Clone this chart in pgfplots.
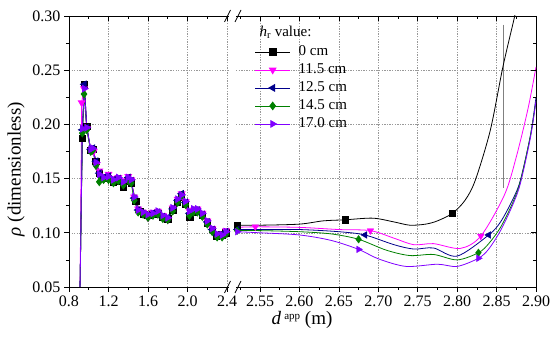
\documentclass[border=0pt]{standalone}
\usepackage{fontspec}
\setmainfont{Liberation Serif}
\usepackage{pgfplots}
\pgfplotsset{compat=1.18}
\definecolor{cmag}{RGB}{255,0,255}
\definecolor{cnavy}{RGB}{0,0,139}
\definecolor{cgreen}{RGB}{0,128,0}
\definecolor{cviolet}{RGB}{128,0,255}
\pgfplotsset{
  base/.style={scale only axis, anchor=south west, height=271pt,
    ymin=0.05, ymax=0.30,
    ytick={0.05,0.10,0.15,0.20,0.25,0.30},
    minor ytick={0.075,0.125,0.175,0.225,0.275},
    major tick length=5pt, minor tick length=3pt,
    tick style={black, line width=0.6pt},
    axis line style={line width=0.9pt},
    tick label style={font=\fontsize{16}{18}\selectfont},
    /pgf/number format/assume math mode=true,
    y tick label style={/pgf/number format/.cd,fixed,fixed zerofill,precision=2},
    major grid style={gray!80, line width=0.5pt, dash pattern=on 1.3pt off 1.3pt},
  },
  lser/.style={line width=0.8pt, mark options={solid}, mark indices={2,3,...,36}},
  msq/.style={mark=square*, mark size=3.2pt},
  mdn/.style={mark=triangle*, mark size=3.8pt, mark options={rotate=180}},
  mlf/.style={mark=triangle*, mark size=3.8pt, mark options={rotate=90}},
  mdi/.style={mark=diamond*, mark size=3.8pt},
  mrt/.style={mark=triangle*, mark size=3.8pt, mark options={rotate=-90}},
}
\begin{document}
\begin{tikzpicture}
\useasboundingbox (0,0) rectangle (552pt,339pt);
% ---------------- left part ----------------
\begin{axis}[base, at={(69pt,52pt)}, width=160pt, xmin=0.8, xmax=2.42,
  xtick={0.8,1.2,1.6,2.0,2.4}, minor xtick={1.0,1.4,1.8,2.2},
  axis y line*=left, xtick pos=bottom, ytick pos=left, tick align=outside,
  grid=major,
  x tick label style={/pgf/number format/.cd,fixed,fixed zerofill,precision=1}]
\addplot[lser, black, msq] coordinates {
(0.912,0.05) (0.935,0.187) (0.955,0.237) (0.98,0.198) (1.02,0.176) (1.04,0.177)
(1.073,0.166) (1.107,0.155) (1.15,0.150) (1.2,0.150) (1.25,0.147) (1.3,0.148)
(1.35,0.142) (1.4,0.148) (1.43,0.146) (1.478,0.129) (1.52,0.120) (1.56,0.117)
(1.6,0.116) (1.65,0.117) (1.7,0.118) (1.75,0.114) (1.8,0.113) (1.85,0.121)
(1.9,0.128) (1.94,0.133) (1.98,0.126) (2.025,0.114) (2.06,0.119) (2.1,0.120)
(2.15,0.116) (2.2,0.109) (2.25,0.103) (2.295,0.097) (2.35,0.098) (2.39,0.100)};
\addplot[lser, cmag, mdn] coordinates {
(0.912,0.05) (0.928,0.220) (0.952,0.233) (0.98,0.196) (1.02,0.176) (1.05,0.175)
(1.08,0.163) (1.107,0.157) (1.15,0.152) (1.2,0.154) (1.25,0.150) (1.3,0.151)
(1.35,0.148) (1.4,0.152) (1.43,0.149) (1.46,0.133) (1.5,0.122) (1.55,0.119)
(1.6,0.114) (1.65,0.119) (1.7,0.120) (1.75,0.116) (1.8,0.112) (1.85,0.123)
(1.9,0.131) (1.94,0.136) (1.98,0.129) (2.02,0.120) (2.06,0.121) (2.1,0.122)
(2.15,0.118) (2.2,0.111) (2.25,0.104) (2.3,0.097) (2.35,0.099) (2.39,0.102)};
\addplot[lser, cnavy, mlf] coordinates {
(0.912,0.05) (0.935,0.195) (0.955,0.237) (0.98,0.197) (1.02,0.177) (1.04,0.178)
(1.073,0.166) (1.107,0.155) (1.15,0.151) (1.2,0.152) (1.25,0.149) (1.3,0.150)
(1.35,0.146) (1.4,0.151) (1.43,0.148) (1.46,0.132) (1.5,0.121) (1.55,0.118)
(1.6,0.116) (1.65,0.118) (1.7,0.119) (1.75,0.115) (1.8,0.114) (1.85,0.122)
(1.9,0.130) (1.94,0.136) (1.98,0.128) (2.02,0.118) (2.06,0.121) (2.1,0.121)
(2.15,0.117) (2.2,0.110) (2.25,0.103) (2.3,0.098) (2.35,0.098) (2.39,0.101)};
\addplot[lser, cgreen, mdi] coordinates {
(0.912,0.05) (0.935,0.192) (0.952,0.228) (0.98,0.195) (1.02,0.175) (1.04,0.176)
(1.073,0.162) (1.107,0.147) (1.15,0.149) (1.2,0.149) (1.25,0.146) (1.3,0.148)
(1.35,0.144) (1.4,0.148) (1.43,0.146) (1.46,0.130) (1.5,0.119) (1.55,0.117)
(1.6,0.114) (1.65,0.116) (1.7,0.117) (1.75,0.113) (1.8,0.112) (1.85,0.120)
(1.9,0.128) (1.94,0.134) (1.98,0.126) (2.02,0.116) (2.06,0.119) (2.1,0.119)
(2.15,0.115) (2.2,0.108) (2.25,0.101) (2.3,0.096) (2.35,0.096) (2.39,0.099)};
\addplot[lser, cviolet, mrt] coordinates {
(0.912,0.05) (0.935,0.196) (0.955,0.233) (0.98,0.197) (1.02,0.177) (1.04,0.178)
(1.073,0.165) (1.107,0.154) (1.15,0.151) (1.2,0.152) (1.25,0.149) (1.3,0.151)
(1.35,0.147) (1.4,0.151) (1.43,0.149) (1.46,0.133) (1.5,0.121) (1.55,0.119)
(1.6,0.117) (1.65,0.118) (1.7,0.120) (1.75,0.116) (1.8,0.114) (1.85,0.123)
(1.9,0.131) (1.94,0.135) (1.98,0.129) (2.02,0.120) (2.06,0.122) (2.1,0.122)
(2.15,0.118) (2.2,0.111) (2.25,0.104) (2.3,0.099) (2.35,0.098) (2.39,0.101)};
\end{axis}
\begin{axis}[base, at={(69pt,52pt)}, width=160pt, xmin=0.8, xmax=2.42,
  xtick={0.8,1.2,1.6,2.0,2.4}, minor xtick={1.0,1.4,1.8,2.2},
  ytick=\empty, minor ytick={}, xtick pos=top, tick align=inside,
  xticklabels={}, axis line style={draw=none}]
\end{axis}
% ---------------- right part ----------------
\begin{axis}[base, at={(236pt,52pt)}, width=300pt, xmin=2.5195, xmax=2.90,
  xtick={2.55,2.60,2.65,2.70,2.75,2.80,2.85,2.90},
  minor xtick={2.525,2.575,2.625,2.675,2.725,2.775,2.825,2.875},
  minor ytick={},
  axis y line*=right, xtick pos=bottom, tick align=outside,
  yticklabels={}, ytick style={draw=none},
  grid=major,
  x tick label style={/pgf/number format/.cd,fixed,fixed zerofill,precision=2},
  legend image code/.code={\draw[mark repeat=2,mark phase=2] plot coordinates {(0pt,0pt) (17.5pt,0pt) (35pt,0pt)};\path (0pt,0pt) (40pt,0pt);},
  legend style={at={(0.052,0.905)}, anchor=north west, draw=none, fill=none,
    font=\fontsize{15}{17}\selectfont, row sep=2pt, column sep=2pt,
    nodes={inner sep=1pt, text height=11pt, text depth=3pt}},
  legend cell align=left]
\addplot[gray, line width=0.9pt, forget plot] coordinates {(2.859,0.292) (2.859,0.141)};
\addplot[black, line width=0.8pt, smooth, forget plot] coordinates {
(2.521,0.107) (2.55,0.107) (2.60,0.108) (2.63,0.111) (2.658,0.112) (2.693,0.1135)
(2.72,0.110) (2.74,0.107) (2.76,0.108) (2.775,0.111) (2.794,0.118) (2.81,0.130)
(2.823,0.1485) (2.842,0.1945) (2.858,0.253) (2.873,0.300) (2.88,0.325)};
\addplot[cmag, line width=0.8pt, smooth, forget plot] coordinates {
(2.521,0.105) (2.544,0.1055) (2.60,0.105) (2.65,0.103) (2.69,0.102) (2.72,0.095)
(2.745,0.089) (2.77,0.090) (2.804,0.0856) (2.83,0.097) (2.86,0.135) (2.875,0.170)
(2.89,0.215) (2.90,0.253)};
\addplot[cnavy, line width=0.8pt, smooth, forget plot] coordinates {
(2.521,0.103) (2.55,0.103) (2.60,0.103) (2.65,0.101) (2.683,0.098) (2.72,0.089)
(2.745,0.085) (2.77,0.086) (2.80,0.0785) (2.84,0.098) (2.855,0.110) (2.87,0.130)
(2.88,0.148) (2.893,0.190) (2.90,0.225)};
\addplot[cgreen, line width=0.8pt, smooth, forget plot] coordinates {
(2.521,0.102) (2.55,0.102) (2.60,0.101) (2.64,0.099) (2.675,0.094) (2.71,0.084)
(2.74,0.079) (2.77,0.080) (2.80,0.075) (2.827,0.0816) (2.84,0.090) (2.855,0.105)
(2.87,0.127) (2.88,0.147) (2.893,0.190) (2.90,0.222)};
\addplot[cviolet, line width=0.8pt, smooth, forget plot] coordinates {
(2.521,0.101) (2.55,0.100) (2.60,0.098) (2.64,0.093) (2.675,0.0847) (2.70,0.076)
(2.735,0.069) (2.775,0.071) (2.80,0.069) (2.827,0.0765) (2.84,0.085) (2.855,0.102)
(2.87,0.125) (2.88,0.145) (2.893,0.188) (2.90,0.222)};
% markers
\addplot[only marks, black, msq, forget plot] coordinates {(2.521,0.107) (2.658,0.112) (2.794,0.118)};
\addplot[only marks, cmag, mdn, forget plot] coordinates {(2.544,0.1055) (2.69,0.102) (2.83,0.097)};
\addplot[only marks, cnavy, mlf, forget plot] coordinates {(2.521,0.103) (2.683,0.098) (2.84,0.098)};
\addplot[only marks, cgreen, mdi, forget plot] coordinates {(2.521,0.102) (2.675,0.094) (2.827,0.0816)};
\addplot[only marks, cviolet, mrt, forget plot] coordinates {(2.521,0.101) (2.675,0.0847) (2.827,0.0765)};
\addlegendimage{black, line width=0.8pt, msq}
\addlegendentry{0 cm}
\addlegendimage{cmag, line width=0.8pt, mdn}
\addlegendentry{11.5 cm}
\addlegendimage{cnavy, line width=0.8pt, mlf}
\addlegendentry{12.5 cm}
\addlegendimage{cgreen, line width=0.8pt, mdi}
\addlegendentry{14.5 cm}
\addlegendimage{cviolet, line width=0.8pt, mrt}
\addlegendentry{17.0 cm}
\end{axis}
\begin{axis}[base, at={(236pt,52pt)}, width=300pt, xmin=2.5195, xmax=2.90,
  xtick={2.55,2.60,2.65,2.70,2.75,2.80,2.85,2.90},
  minor xtick={2.525,2.575,2.625,2.675,2.725,2.775,2.825,2.875},
  xtick pos=top, ytick pos=right, tick align=inside,
  xticklabels={}, yticklabels={}, axis line style={draw=none}]
\end{axis}
% break marks
\foreach \yy in {52,323} {
  \fill[white] (229.5pt,\yy pt-1.5pt) rectangle (235.5pt,\yy pt+1.5pt);
  \draw[line width=0.8pt] (224.5pt,\yy pt-6pt) -- (230.5pt,\yy pt+6pt);
  \draw[line width=0.8pt] (235pt,\yy pt-6pt) -- (241pt,\yy pt+6pt);
}
% labels
\node[anchor=west, font=\fontsize{15}{17}\selectfont] at (256pt,307pt) {\textit{h}\textsubscript{r} value:};
\node[font=\fontsize{19}{22}\selectfont] at (302pt,19pt) {\textit{d}\,\raisebox{0.6ex}{\fontsize{11}{12}\selectfont app} (m)};
\node[rotate=90, font=\fontsize{19}{22}\selectfont] at (16pt,170pt) {\textit{ρ} (dimensionless)};
\end{tikzpicture}
\end{document}
